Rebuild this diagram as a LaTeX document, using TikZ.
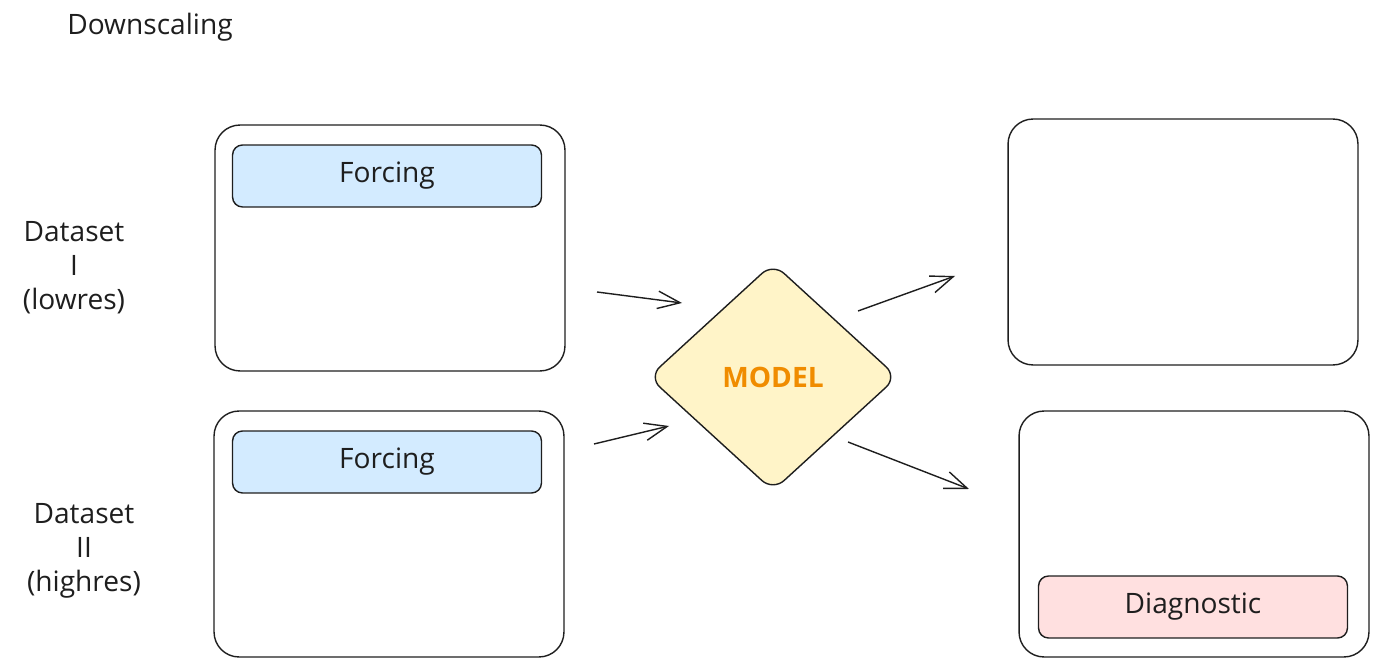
\documentclass[tikz,border=0pt]{standalone}
\usepackage{fontspec}
\setmainfont{Open Sans}
\usepackage{xcolor}
\usepackage{tikz}
\usetikzlibrary{shapes,arrows,positioning,calc,arrows.meta}

\definecolor{inkdark}{HTML}{1E1E1E}
\definecolor{forcingblue}{HTML}{D3EBFF}
\definecolor{modelyellow}{HTML}{FFF4C8}
\definecolor{modelorange}{HTML}{F08C00}
\definecolor{diagpink}{HTML}{FFE0E0}

\begin{document}
\begin{tikzpicture}[x=0.02cm,y=-0.02cm,
    every node/.style={font=\fontsize{16}{19.3}\selectfont, text=inkdark},
    panel/.style={draw=inkdark, line width=0.8pt, rounded corners=0.5cm,
        minimum width=7cm, minimum height=4.92cm},
    varbox/.style={draw=inkdark, line width=0.8pt, rounded corners=0.2cm,
        minimum width=6.18cm, minimum height=1.24cm},
    flow/.style={draw=inkdark, line width=0.8pt,
        -{Straight Barb[length=4.5mm,width=3.5mm]}}]
    \useasboundingbox (0,0) rectangle (1379,668);

    \node (title) at (150,27) {Downscaling};

    % Dataset I
    \node[panel] (lowres) at (390,248) {};
    \node[varbox, fill=forcingblue] (forcingI) at (387,176) {Forcing};
    \node[align=center] (labelI) at (74,268) {Dataset\\I\\(lowres)};

    % Dataset II
    \node[panel] (highres) at (389,534) {};
    \node[varbox, fill=forcingblue] (forcingII) at (387,462) {Forcing};
    \node[align=center] (labelII) at (84,551) {Dataset\\II\\(highres)};

    % Model
    \node[diamond, draw=inkdark, line width=0.8pt, fill=modelyellow,
        minimum width=4.98cm, minimum height=4.56cm, inner sep=0pt,
        rounded corners=0.3cm, text=modelorange,
        font=\fontsize{16}{19.3}\selectfont\bfseries] (model) at (773,377) {MODEL};

    % Outputs
    \node[panel] (outtop) at (1183,242) {};
    \node[panel] (outbottom) at (1194,534) {};
    \node[varbox, fill=diagpink] (diagnostic) at (1193,607) {Diagnostic};

    % Arrows
    \coordinate (fromI) at (597,292);
    \coordinate (toI) at (682,303);
    \coordinate (fromII) at (594,444);
    \coordinate (toII) at (669,426);
    \coordinate (fromtop) at (858,311);
    \coordinate (totop) at (955,276);
    \coordinate (frombottom) at (848,442);
    \coordinate (tobottom) at (969,489);
    \draw[flow] (fromI) -- (toI);
    \draw[flow] (fromII) -- (toII);
    \draw[flow] (fromtop) -- (totop);
    \draw[flow] (frombottom) -- (tobottom);
\end{tikzpicture}
\end{document}
